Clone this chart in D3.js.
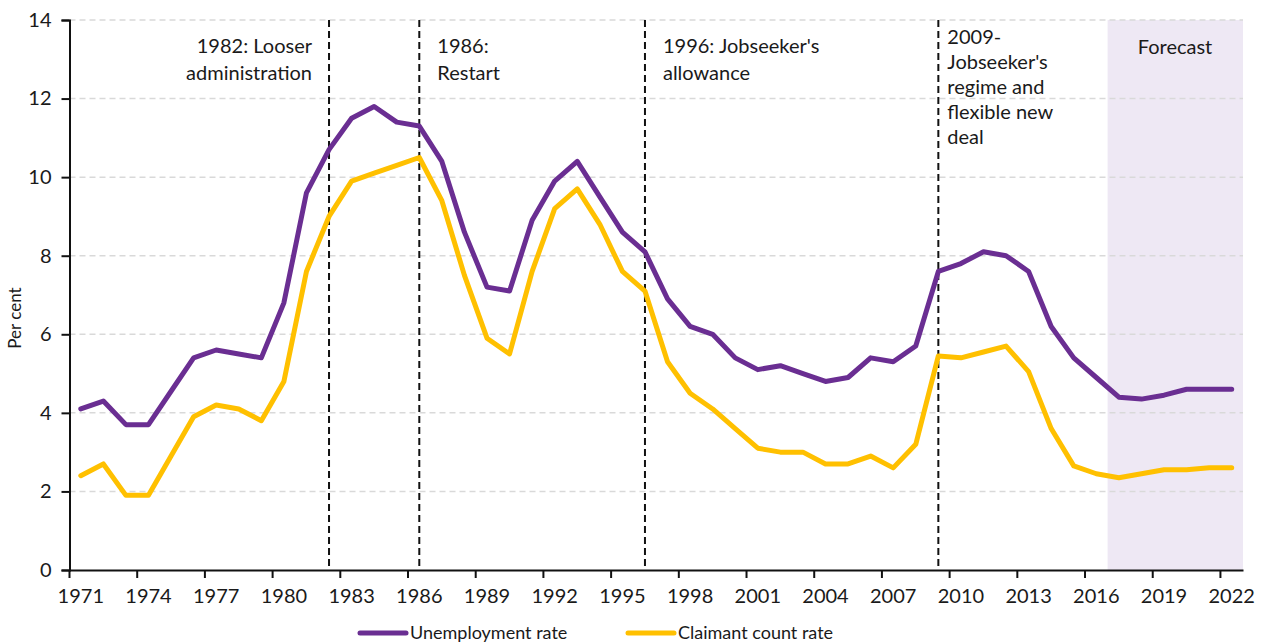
<!DOCTYPE html>
<html>
<head>
<meta charset="utf-8">
<title>Unemployment and claimant count rates</title>
<script src="https://d3js.org/d3.v7.min.js"></script>
<style>
  body { margin: 0; background: #fff; }
  svg text { font-family: "Lato", "DejaVu Sans", sans-serif; fill: #1a1a1a; }
</style>
</head>
<body>
<div id="chart"></div>
<script>
// years on the category axis
var years = d3.range(1971, 2023);

// unemployment rate, per cent
var unemployment = [4.1, 4.3, 3.7, 3.7, 4.55, 5.4, 5.6, 5.5, 5.4, 6.8,
  9.6, 10.7, 11.5, 11.8, 11.4, 11.3, 10.4, 8.6, 7.2, 7.1,
  8.9, 9.9, 10.4, 9.5, 8.6, 8.1, 6.9, 6.2, 6.0, 5.4,
  5.1, 5.2, 5.0, 4.8, 4.9, 5.4, 5.3, 5.7, 7.6, 7.8,
  8.1, 8.0, 7.6, 6.2, 5.4, 4.9, 4.4, 4.35, 4.45, 4.6,
  4.6, 4.6];

// claimant count rate, per cent
var claimant = [2.4, 2.7, 1.9, 1.9, 2.9, 3.9, 4.2, 4.1, 3.8, 4.8,
  7.6, 9.0, 9.9, 10.1, 10.3, 10.5, 9.4, 7.5, 5.9, 5.5,
  7.6, 9.2, 9.7, 8.8, 7.6, 7.1, 5.3, 4.5, 4.1, 3.6,
  3.1, 3.0, 3.0, 2.7, 2.7, 2.9, 2.6, 3.2, 5.45, 5.4,
  5.55, 5.7, 5.05, 3.6, 2.65, 2.45, 2.35, 2.45, 2.55, 2.55,
  2.6, 2.6];

// policy markers (year of the dashed line) and their labels
var markerYears = [1982, 1986, 1996, 2009];
var markerLabels = [
  ["1982: Looser", "administration"],
  ["1986:", "Restart"],
  ["1996: Jobseeker's", "allowance"],
  ["2009-", "Jobseeker's", "regime and", "flexible new", "deal"]
];
var forecastStart = 2017;

var yTicks = [0, 2, 4, 6, 8, 10, 12, 14];
var xTickYears = d3.range(1971, 2023, 3);

var W = 1267, H = 644;
// plot edges (avoid "top", which is a window property)
var pLeft = 69.5, pRight = 1243, pTop = 20, pBottom = 570;

var purple = "#6a2e92", yellow = "#ffc000";

var svg = d3.select("#chart").append("svg")
  .attr("width", W).attr("height", H);

var x = d3.scaleBand().domain(years).range([pLeft, pRight]).padding(0);
var bw = x.bandwidth();
var cx = function (yr) { return x(yr) + bw / 2; };
var y = d3.scaleLinear().domain([0, 14]).range([pBottom, pTop]);

// forecast shading
svg.append("rect")
  .attr("x", x(forecastStart)).attr("y", pTop)
  .attr("width", pRight - x(forecastStart)).attr("height", pBottom - pTop)
  .attr("fill", "#eee8f4");

// horizontal gridlines
svg.append("g").selectAll("line")
  .data(yTicks.filter(function (d) { return d > 0; }))
  .enter().append("line")
  .attr("x1", pLeft).attr("x2", pRight)
  .attr("y1", function (d) { return y(d); }).attr("y2", function (d) { return y(d); })
  .attr("stroke", "#d9d9d9").attr("stroke-width", 1.5)
  .attr("stroke-dasharray", "6,4");

svg.append("text")
  .attr("x", 1175).attr("y", 54)
  .attr("text-anchor", "middle").style("font-size", "20px")
  .text("Forecast");

// policy lines
svg.append("g").selectAll("line")
  .data(markerYears)
  .enter().append("line")
  .attr("x1", function (d) { return cx(d); }).attr("x2", function (d) { return cx(d); })
  .attr("y1", pTop).attr("y2", pBottom)
  .attr("stroke", "#111").attr("stroke-width", 2)
  .attr("stroke-dasharray", "7,4");

// labels next to policy lines
var labelOffsets = [-17, 18, 18, 9];
markerLabels.forEach(function (lines, i) {
  var lh = i === 3 ? 25 : 26.5;
  var y0 = i === 3 ? 44 : 53;
  var t = svg.append("text")
    .attr("text-anchor", i === 0 ? "end" : "start")
    .style("font-size", "20px");
  lines.forEach(function (s, j) {
    t.append("tspan")
      .attr("x", cx(markerYears[i]) + labelOffsets[i])
      .attr("y", y0 + j * lh)
      .text(s);
  });
});

// lines
var line = d3.line()
  .x(function (d, i) { return cx(years[i]); })
  .y(function (d) { return y(d); });

[[claimant, yellow], [unemployment, purple]].forEach(function (s) {
  svg.append("path")
    .datum(s[0])
    .attr("d", line)
    .attr("fill", "none")
    .attr("stroke", s[1]).attr("stroke-width", 5)
    .attr("stroke-linejoin", "round").attr("stroke-linecap", "round");
});

// y axis
var yAxis = svg.append("g")
  .attr("transform", "translate(" + pLeft + ",0)")
  .call(d3.axisLeft(y).tickValues(yTicks).tickSize(8).tickPadding(10));
yAxis.selectAll("text").style("font-size", "20px");
yAxis.select(".domain").attr("stroke", "#111").attr("stroke-width", 2);
yAxis.selectAll(".tick line").attr("stroke", "#111").attr("stroke-width", 2);

// x axis: ticks between categories, labels on category centres
var xAxis = svg.append("g")
  .attr("transform", "translate(0," + pBottom + ")")
  .call(d3.axisBottom(x).tickValues(xTickYears).tickSize(8).tickPadding(11).tickSizeOuter(0));
xAxis.selectAll("text").style("font-size", "20px");
xAxis.selectAll(".tick line")
  .attr("x1", -bw / 2).attr("x2", -bw / 2)
  .attr("stroke", "#111").attr("stroke-width", 2);
xAxis.select(".domain").attr("stroke", "#111").attr("stroke-width", 2);

svg.append("text")
  .attr("transform", "translate(21,318) rotate(-90)")
  .attr("text-anchor", "middle").style("font-size", "17px")
  .text("Per cent");

// legend
var legend = [["Unemployment rate", purple, 360], ["Claimant count rate", yellow, 628]];
legend.forEach(function (d) {
  svg.append("line")
    .attr("x1", d[2]).attr("x2", d[2] + 46)
    .attr("y1", 633).attr("y2", 633)
    .attr("stroke", d[1]).attr("stroke-width", 5).attr("stroke-linecap", "round");
  svg.append("text")
    .attr("x", d[2] + 50).attr("y", 639)
    .style("font-size", "18px")
    .text(d[0]);
});
</script>
</body>
</html>
